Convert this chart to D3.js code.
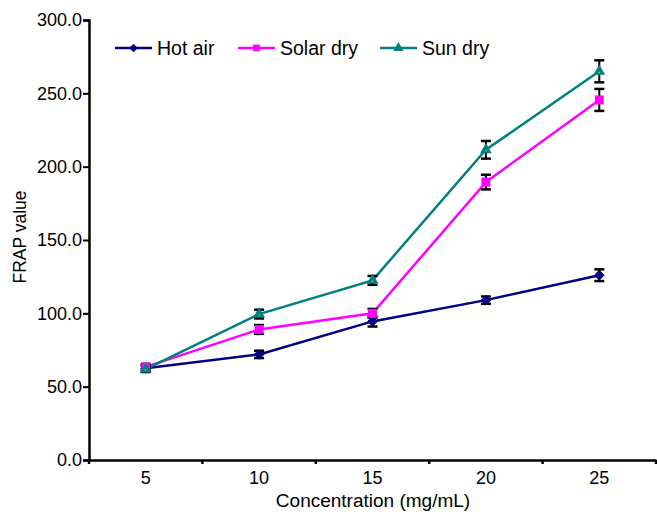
<!DOCTYPE html>
<html>
<head>
<meta charset="utf-8">
<script src="https://cdn.jsdelivr.net/npm/d3@7"></script>
<style>
  body { margin: 0; background: #fff; }
  text { font-family: "Liberation Sans", Arial, sans-serif; fill: #000; }
</style>
</head>
<body>
<div id="chart"></div>
<script>
// data
var concentrations = ["5", "10", "15", "20", "25"];
var hotAir = [62.5, 72, 94.5, 109, 126];
var hotAirErr = [2, 2.5, 3.5, 2.5, 4];
var solarDry = [63.5, 89, 100, 189.5, 245.5];
var solarDryErr = [2, 3, 3, 5, 7.5];
var sunDry = [62, 99.5, 122.5, 211.5, 265];
var sunDryErr = [2, 3, 3, 6, 7.5];
var yTicks = [0, 50, 100, 150, 200, 250, 300];

var seriesList = [
  { name: "Hot air", values: hotAir, err: hotAirErr, color: "#000080", symbol: d3.symbolDiamond2 },
  { name: "Solar dry", values: solarDry, err: solarDryErr, color: "#ff00ff", symbol: d3.symbolSquare },
  { name: "Sun dry", values: sunDry, err: sunDryErr, color: "#008080", symbol: d3.symbolTriangle }
];

var svgWidth = 657;
var svgHeight = 512;
var margin = { top: 20, right: 1, bottom: 52, left: 89 };
var width = svgWidth - margin.left - margin.right;
var height = svgHeight - margin.top - margin.bottom;

var svg = d3.select("#chart")
  .append("svg")
  .attr("width", svgWidth)
  .attr("height", svgHeight);

var chartGroup = svg.append("g")
  .attr("transform", `translate(${margin.left}, ${margin.top})`);

// scales
var xScale = d3.scaleBand()
  .domain(concentrations)
  .range([0, width]);

var yScale = d3.scaleLinear()
  .domain([0, 300])
  .range([height, 0]);

// axes
var xAxis = d3.axisBottom(xScale).tickSize(0).tickPadding(11);
var yAxis = d3.axisLeft(yScale)
  .tickValues(yTicks)
  .tickSize(6)
  .tickPadding(1)
  .tickFormat(d3.format(".1f"));

var xg = chartGroup.append("g")
  .attr("transform", `translate(0, ${height})`)
  .call(xAxis);
xg.select(".domain").attr("stroke-width", 2.5);
xg.selectAll("text").style("font-size", "18px");

// small tick marks on band boundaries
xg.selectAll(".bound")
  .data(d3.range(concentrations.length + 1))
  .enter()
  .append("line")
  .attr("x1", i => i * xScale.bandwidth())
  .attr("x2", i => i * xScale.bandwidth())
  .attr("y1", 0)
  .attr("y2", 4)
  .attr("stroke", "#000")
  .attr("stroke-width", 2.5);

var yg = chartGroup.append("g").call(yAxis);
yg.select(".domain").attr("stroke-width", 2.5);
yg.selectAll(".tick line").attr("stroke-width", 2);
yg.selectAll("text").style("font-size", "18px");

// lines, error bars, markers
var cx = i => xScale(concentrations[i]) + xScale.bandwidth() / 2;

seriesList.forEach(function(s) {
  var line = d3.line()
    .x((d, i) => cx(i))
    .y(d => yScale(d));

  chartGroup.append("path")
    .datum(s.values)
    .attr("fill", "none")
    .attr("stroke", s.color)
    .attr("stroke-width", 2.5)
    .attr("d", line);
});

seriesList.forEach(function(s) {
  var eb = chartGroup.append("g");
  s.values.forEach(function(v, i) {
    var x = cx(i);
    var top = yScale(v + s.err[i]);
    var bot = yScale(v - s.err[i]);
    eb.append("line").attr("x1", x).attr("x2", x).attr("y1", top).attr("y2", bot)
      .attr("stroke", "#000").attr("stroke-width", 2);
    [top, bot].forEach(function(y) {
      eb.append("line").attr("x1", x - 5).attr("x2", x + 5).attr("y1", y).attr("y2", y)
        .attr("stroke", "#000").attr("stroke-width", 2.5);
    });
  });
});

seriesList.forEach(function(s) {
  chartGroup.selectAll(".pt")
    .data(s.values)
    .enter()
    .append("path")
    .attr("transform", (d, i) => `translate(${cx(i)}, ${yScale(d)})`)
    .attr("d", d3.symbol().type(s.symbol).size(s.symbol === d3.symbolSquare ? 80 : 60))
    .attr("fill", s.color)
    .attr("stroke", s.symbol === d3.symbolDiamond2 ? s.color : "none");
  if (s.symbol === d3.symbolTriangle) {
    chartGroup.selectAll(".dot")
      .data(s.values)
      .enter()
      .append("circle")
      .attr("cx", (d, i) => cx(i))
      .attr("cy", d => yScale(d) + 1)
      .attr("r", 0.8)
      .attr("fill", "#cccc00");
  }
});

// legend
var legendX = [115, 238, 380];
var legend = svg.append("g");
seriesList.forEach(function(s, i) {
  var g = legend.append("g").attr("transform", `translate(${legendX[i]}, 48)`);
  g.append("line").attr("x1", 0).attr("x2", 37).attr("y1", 0).attr("y2", 0)
    .attr("stroke", s.color).attr("stroke-width", 2.5);
  g.append("path")
    .attr("transform", "translate(18.5, 0)")
    .attr("d", d3.symbol().type(s.symbol).size(45))
    .attr("fill", s.color);
  g.append("text")
    .attr("x", 42)
    .attr("y", 7)
    .style("font-size", "19.5px")
    .text(s.name);
});

// axis titles
svg.append("text")
  .attr("transform", "rotate(-90)")
  .attr("x", -237)
  .attr("y", 26)
  .attr("text-anchor", "middle")
  .style("font-size", "17.5px")
  .text("FRAP value");

svg.append("text")
  .attr("x", 373)
  .attr("y", 507)
  .attr("text-anchor", "middle")
  .style("font-size", "19px")
  .text("Concentration (mg/mL)");
</script>
</body>
</html>
